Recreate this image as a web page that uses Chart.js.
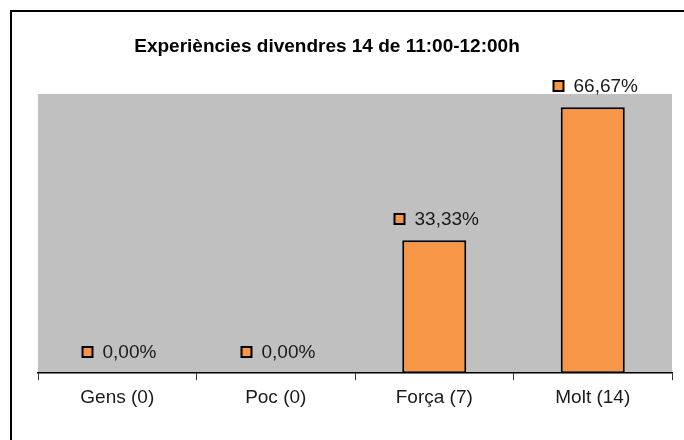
<!DOCTYPE html>
<html>
<head>
<meta charset="utf-8">
<script src="https://cdn.jsdelivr.net/npm/chart.js@4/dist/chart.umd.min.js"></script>
<style>
  html, body { margin: 0; padding: 0; background: #ffffff; }
  canvas { display: block; }
</style>
</head>
<body>
<canvas id="chart" width="684" height="440"></canvas>
<script>
// Chart data
const chartTitle = 'Experiències divendres 14 de 11:00-12:00h';
const categories = ['Gens (0)', 'Poc (0)', 'Força (7)', 'Molt (14)'];
const percentValues = [0, 0, 33.33, 66.67];
const valueLabels = ['0,00%', '0,00%', '33,33%', '66,67%'];

const FONT = '"Liberation Sans", Arial, sans-serif';
const BAR_ORANGE = '#F79646';

// Grey plot area, outer frame that runs off the page, and the title
const backdrop = {
    id: 'backdrop',
    beforeDraw(chart) {
        const { ctx, chartArea } = chart;
        ctx.save();
        ctx.fillStyle = '#C0C0C0';
        ctx.fillRect(chartArea.left, chartArea.top, chartArea.right - chartArea.left, chartArea.bottom - chartArea.top);
        ctx.strokeStyle = '#000000';
        ctx.lineWidth = 2;
        ctx.strokeRect(11, 11, chart.width + 20, chart.height + 20);
        // title is centred on the whole frame, not the plot
        ctx.fillStyle = '#000000';
        ctx.font = 'bold 19px ' + FONT;
        ctx.textAlign = 'center';
        ctx.textBaseline = 'middle';
        ctx.fillText(chartTitle, 327, 47);
        ctx.restore();
    }
};

// Little legend square + percentage above each bar
const valueTags = {
    id: 'valueTags',
    afterDatasetsDraw(chart) {
        const { ctx } = chart;
        const bars = chart.getDatasetMeta(0).data;
        ctx.save();
        ctx.font = '19px ' + FONT;
        ctx.textBaseline = 'middle';
        bars.forEach((bar, i) => {
            const text = valueLabels[i];
            const w = ctx.measureText(text).width;
            const box = 11, gap = 9;
            const total = box + gap + w;
            const x0 = Math.round(bar.x - total / 2 + 2) + 0.5;
            const y = Math.round(bar.y - 21);
            ctx.fillStyle = BAR_ORANGE;
            ctx.fillRect(x0, y - 5, box - 1, box - 1);
            ctx.strokeStyle = '#000000';
            ctx.lineWidth = 2;
            ctx.strokeRect(x0, y - 5, box - 1, box - 1);
            ctx.fillStyle = '#1a1a1a';
            ctx.textAlign = 'left';
            ctx.fillText(text, x0 + box + gap, y + 1);
        });
        ctx.restore();
    }
};

new Chart(document.getElementById('chart'), {
    type: 'bar',
    data: {
        labels: categories,
        datasets: [{
            data: percentValues,
            backgroundColor: BAR_ORANGE,
            borderColor: '#000000',
            borderWidth: 2,
            borderSkipped: false,
            categoryPercentage: 1,
            barPercentage: 0.404
        }]
    },
    options: {
        responsive: false,
        animation: false,
        layout: { padding: { left: 38, right: 12, top: 94, bottom: 25 } },
        plugins: {
            legend: { display: false },
            tooltip: { enabled: false },
            title: { display: false }
        },
        scales: {
            x: {
                grid: {
                    display: true,
                    offset: true,
                    drawOnChartArea: false,
                    drawTicks: true,
                    tickLength: 7,
                    color: '#333333'
                },
                border: { display: true, color: '#000000', width: 1.5 },
                ticks: {
                    color: '#1a1a1a',
                    padding: 6,
                    font: { family: FONT, size: 19 }
                }
            },
            y: {
                display: false,
                min: 0,
                max: 70
            }
        }
    },
    plugins: [backdrop, valueTags]
});
</script>
</body>
</html>
